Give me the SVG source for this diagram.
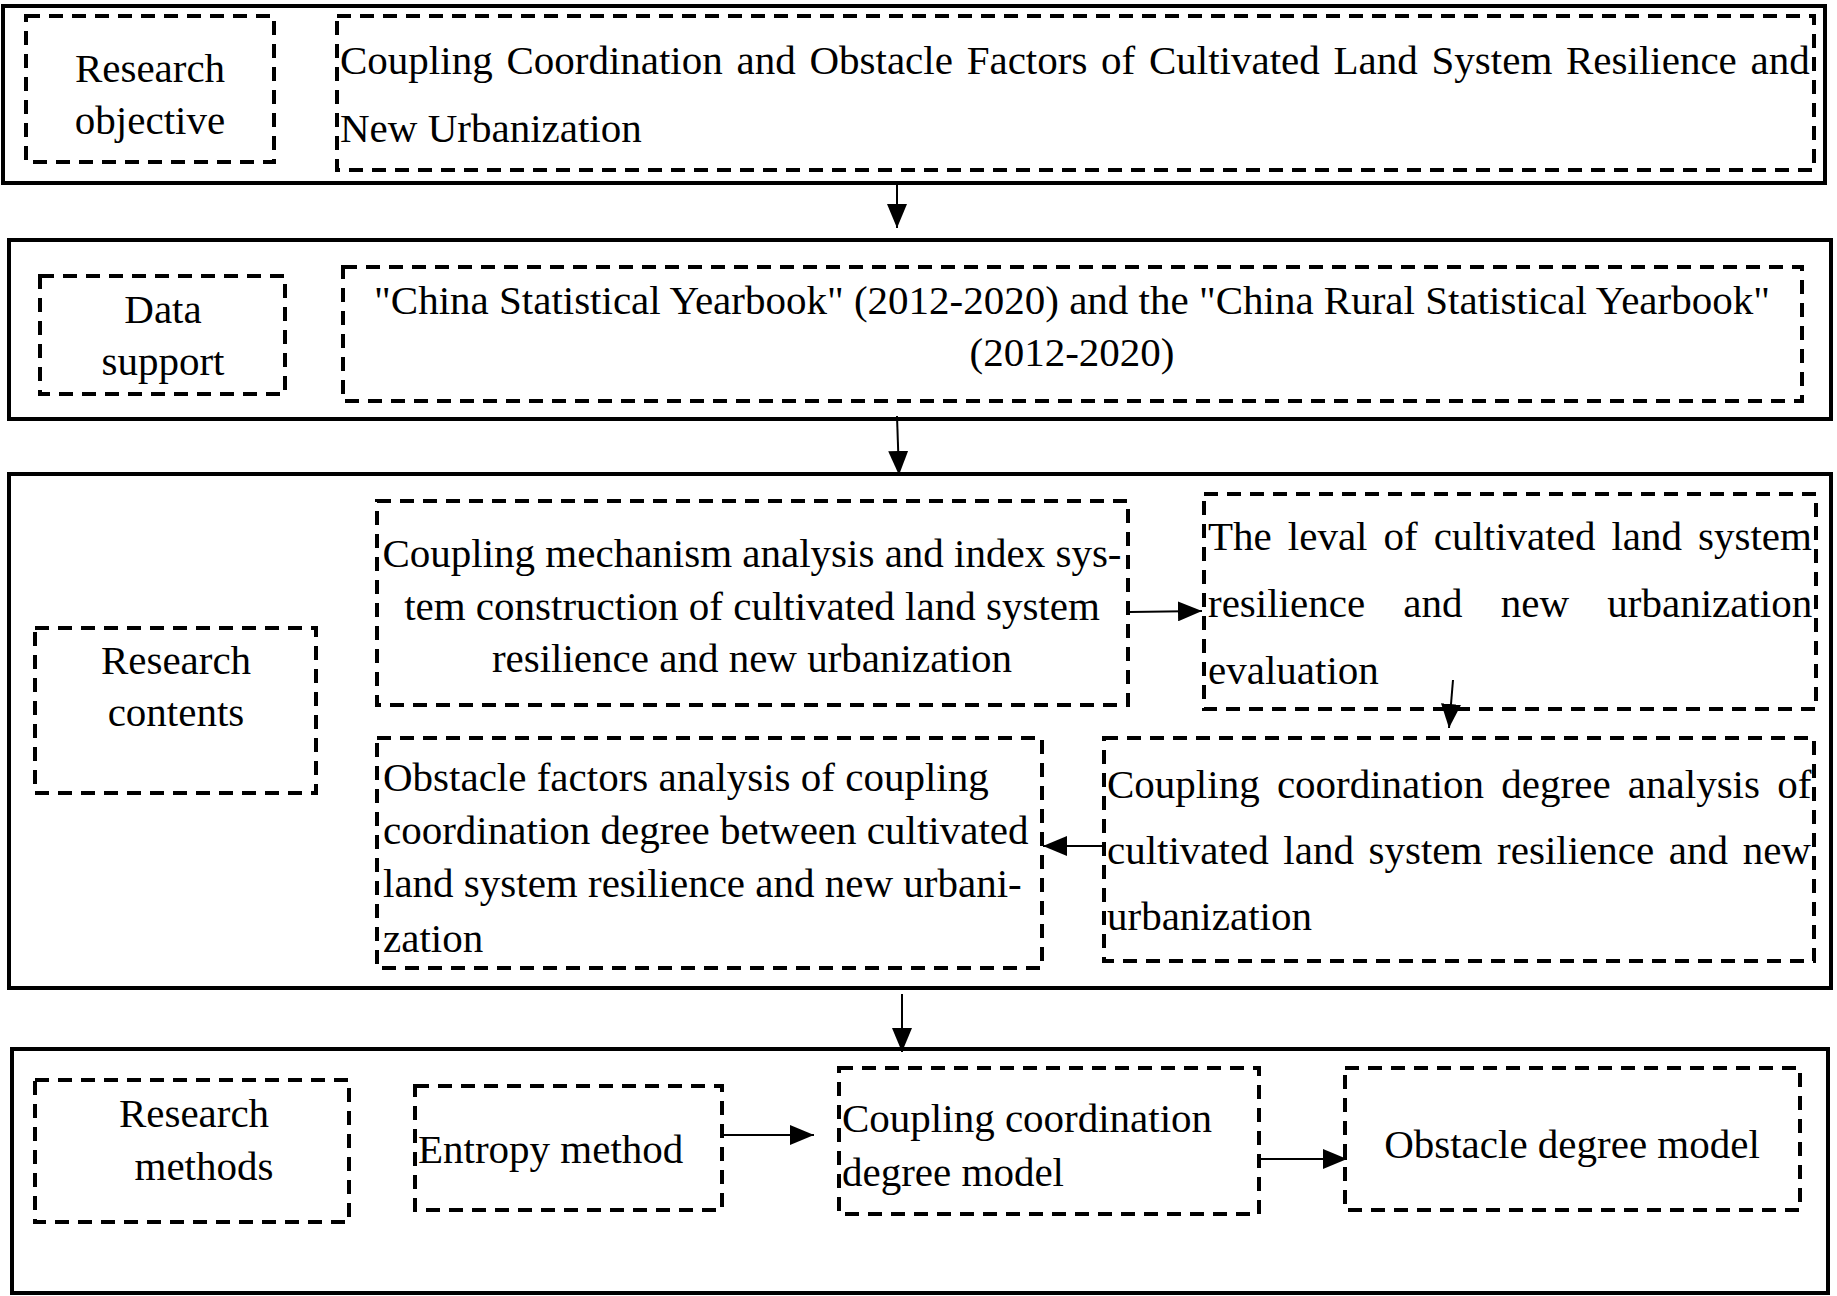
<svg xmlns="http://www.w3.org/2000/svg" width="1837" height="1296" viewBox="0 0 1837 1296">
<style>
.outer{fill:none;stroke:#000;stroke-width:4}
.dash{fill:none;stroke:#000;stroke-width:4;stroke-dasharray:14 9}
.t{font-family:"Liberation Serif","Times New Roman",serif;font-size:41px;fill:#000}
.c{text-anchor:middle}
.conn{stroke:#000;stroke-width:2;fill:none}
</style>
<defs>
<marker id="ah" markerUnits="userSpaceOnUse" markerWidth="26" markerHeight="20" refX="24" refY="10" orient="auto">
<path d="M0,0 L24,10 L0,20 Z" fill="#000"/>
</marker>
</defs>
<rect width="1837" height="1296" fill="#fff"/>

<g id="objective">
<rect class="outer" x="3" y="6" width="1822" height="177"/>
<g id="objective-label">
<rect class="dash" x="26" y="16" width="248" height="146"/>
<text class="t c" x="150" y="82">Research</text>
<text class="t c" x="150" y="134">objective</text>
</g>
<g id="objective-text">
<rect class="dash" x="337" y="16" width="1477" height="154"/>
<text class="t" x="340" y="74" word-spacing="3.5">Coupling Coordination and Obstacle Factors of Cultivated Land System Resilience and</text>
<text class="t" x="340" y="142">New Urbanization</text>
</g>
</g>

<g id="data">
<rect class="outer" x="9" y="240" width="1822" height="179"/>
<g id="data-label">
<rect class="dash" x="40" y="276" width="245" height="118"/>
<text class="t c" x="163" y="323">Data</text>
<text class="t c" x="163" y="375">support</text>
</g>
<g id="data-text">
<rect class="dash" x="343" y="267" width="1459" height="134"/>
<text class="t c" x="1072" y="314">"China Statistical Yearbook" (2012-2020) and the "China Rural Statistical Yearbook"</text>
<text class="t c" x="1072" y="366">(2012-2020)</text>
</g>
</g>

<g id="contents">
<rect class="outer" x="9" y="474" width="1822" height="514"/>
<g id="contents-label">
<rect class="dash" x="35" y="628" width="281" height="165"/>
<text class="t c" x="176" y="674">Research</text>
<text class="t c" x="176" y="726">contents</text>
</g>
<g id="mechanism">
<rect class="dash" x="377" y="501" width="751" height="204"/>
<text class="t c" x="752" y="567">Coupling mechanism analysis and index sys-</text>
<text class="t c" x="752" y="620">tem construction of cultivated land system</text>
<text class="t c" x="752" y="672">resilience and new urbanization</text>
</g>
<g id="evaluation">
<rect class="dash" x="1204" y="494" width="612" height="215"/>
<text class="t" x="1208" y="550" word-spacing="5.8">The leval of cultivated land system</text>
<text class="t" x="1208" y="617" word-spacing="28">resilience and new urbanization</text>
<text class="t" x="1208" y="684">evaluation</text>
</g>
<g id="coordination">
<rect class="dash" x="1104" y="738" width="710" height="223"/>
<text class="t" x="1107" y="798" word-spacing="7">Coupling coordination degree analysis of</text>
<text class="t" x="1107" y="864" word-spacing="4.4">cultivated land system resilience and new</text>
<text class="t" x="1107" y="930">urbanization</text>
</g>
<g id="obstacle">
<rect class="dash" x="377" y="738" width="665" height="230"/>
<text class="t" x="383" y="791">Obstacle factors analysis of coupling</text>
<text class="t" x="383" y="844">coordination degree between cultivated</text>
<text class="t" x="383" y="897">land system resilience and new urbani-</text>
<text class="t" x="383" y="952">zation</text>
</g>
</g>

<g id="methods">
<rect class="outer" x="12" y="1049" width="1816" height="244"/>
<g id="methods-label">
<rect class="dash" x="35" y="1080" width="314" height="142"/>
<text class="t c" x="194" y="1127">Research</text>
<text class="t c" x="204" y="1180">methods</text>
</g>
<g id="entropy">
<rect class="dash" x="415" y="1086" width="307" height="124"/>
<text class="t" x="418" y="1163">Entropy method</text>
</g>
<g id="ccdm">
<rect class="dash" x="839" y="1068" width="420" height="146"/>
<text class="t" x="842" y="1132">Coupling coordination</text>
<text class="t" x="842" y="1186">degree model</text>
</g>
<g id="odm">
<rect class="dash" x="1345" y="1068" width="455" height="142"/>
<text class="t c" x="1572" y="1158">Obstacle degree model</text>
</g>
</g>

<g id="connectors">
<line class="conn" x1="897" y1="183" x2="897" y2="228" marker-end="url(#ah)"/>
<line class="conn" x1="897" y1="416" x2="899" y2="475" marker-end="url(#ah)"/>
<line class="conn" x1="902" y1="994" x2="902" y2="1052" marker-end="url(#ah)"/>
<line class="conn" x1="1130" y1="612" x2="1202" y2="611" marker-end="url(#ah)"/>
<line class="conn" x1="1453" y1="680" x2="1449" y2="728" marker-end="url(#ah)"/>
<line class="conn" x1="1104" y1="846" x2="1043" y2="846" marker-end="url(#ah)"/>
<line class="conn" x1="722" y1="1135" x2="814" y2="1135" marker-end="url(#ah)"/>
<line class="conn" x1="1259" y1="1159" x2="1347" y2="1159" marker-end="url(#ah)"/>
</g>
</svg>
